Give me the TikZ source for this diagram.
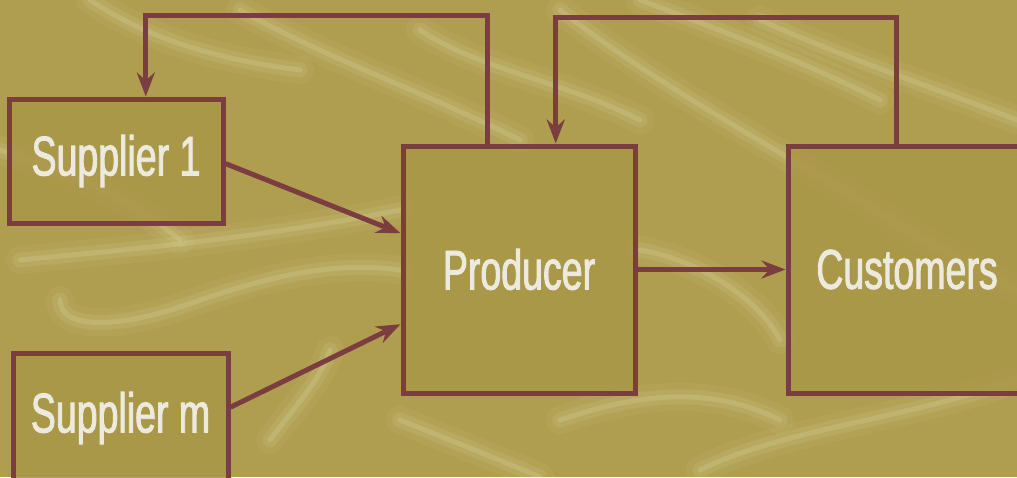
\documentclass[tikz,border=0pt]{standalone}
\usepackage{fontspec}
\newfontfamily\labfont[FakeStretch=0.67,FakeBold=1.6]{Liberation Sans}
\usetikzlibrary{arrows.meta,calc}
\definecolor{bgc}{RGB}{176,158,80}
\definecolor{boxc}{RGB}{170,151,72}
\definecolor{linec}{RGB}{122,62,64}
\definecolor{txtc}{RGB}{236,234,222}
\definecolor{veinc}{RGB}{228,222,170}
\tikzset{
  blk/.style={draw=linec, line width=5pt, fill=boxc, fill opacity=0.85, text opacity=1,
    text=txtc, font=\labfont\fontsize{56}{62}\selectfont, inner sep=0pt},
  conn/.style={draw=linec, line width=5pt, -{Stealth[length=24pt,width=18pt,inset=8pt]}},
  veinA/.style={draw=veinc, line cap=round, line join=round, opacity=0.07, line width=28pt},
  veinB/.style={draw=veinc, line cap=round, line join=round, opacity=0.12, line width=15pt},
  veinC/.style={draw=veinc, line cap=round, line join=round, opacity=0.22, line width=5pt}
}
\begin{document}
\begin{tikzpicture}[x=1pt,y=-1pt]
\useasboundingbox (0,0) rectangle (1017,477);
\fill[bgc] (0,0) rectangle (1017,477);
% marble veins (background texture)
\foreach \s in {veinA,veinB,veinC}{
  \draw[\s] (90,0) .. controls (150,40) and (220,60) .. (300,70);
  \draw[\s] (240,10) .. controls (330,60) and (420,90) .. (520,140);
  \draw[\s] (420,30) .. controls (480,70) and (560,80) .. (640,120);
  \draw[\s] (560,10) .. controls (650,80) and (760,140) .. (860,200) .. controls (920,240) and (980,270) .. (1017,290);
  \draw[\s] (640,0) .. controls (720,30) and (800,60) .. (880,100);
  \draw[\s] (760,20) .. controls (850,60) and (940,90) .. (1017,120);
  \draw[\s] (0,150) .. controls (60,170) and (120,190) .. (180,240);
  \draw[\s] (20,260) .. controls (120,250) and (250,240) .. (400,210);
  \draw[\s] (60,300) .. controls (60,330) and (120,330) .. (200,300) .. controls (260,280) and (330,260) .. (400,270);
  \draw[\s] (270,440) .. controls (300,400) and (320,380) .. (330,350);
  \draw[\s] (640,250) .. controls (700,260) and (760,300) .. (780,340);
  \draw[\s] (560,420) .. controls (620,400) and (700,380) .. (780,420);
  \draw[\s] (700,470) .. controls (780,430) and (900,420) .. (1017,380);
  \draw[\s] (400,420) .. controls (450,440) and (500,460) .. (540,477);
}
% blocks
\node[blk, minimum width=214pt, minimum height=124pt] (s1) at (116,161) {Supplier 1};
\node[blk, minimum width=215pt, minimum height=130pt] (sm) at (120.5,418) {Supplier m};
\node[blk, minimum width=232pt, minimum height=247pt] (p) at (519,269.5) {Producer};
\node[blk, minimum width=238pt, minimum height=247pt] (c) at (907,269.5) {Customers};
% connectors
\draw[conn] ($(s1.north east)!0.52!(s1.south east)$) -- ($(p.north west)!0.356!(p.south west)$);
\draw[conn] ($(sm.north east)!0.42!(sm.south east)$) -- ($(p.north west)!0.717!(p.south west)$);
\draw[conn] (p.east) -- (c.west);
\coordinate (f1a) at ($(p.north west)!0.366!(p.north east)$);
\coordinate (f1b) at ($(s1.north west)!0.636!(s1.north east)$);
\draw[conn, line join=miter] (f1a) -- (f1a |- 0,15) -- (f1b |- 0,15) -- (f1b);
\coordinate (f2a) at ($(c.north west)!0.458!(c.north east)$);
\coordinate (f2b) at ($(p.north west)!0.655!(p.north east)$);
\draw[conn, line join=miter] (f2a) -- (f2a |- 0,17) -- (f2b |- 0,17) -- (f2b);
\end{tikzpicture}
\end{document}
